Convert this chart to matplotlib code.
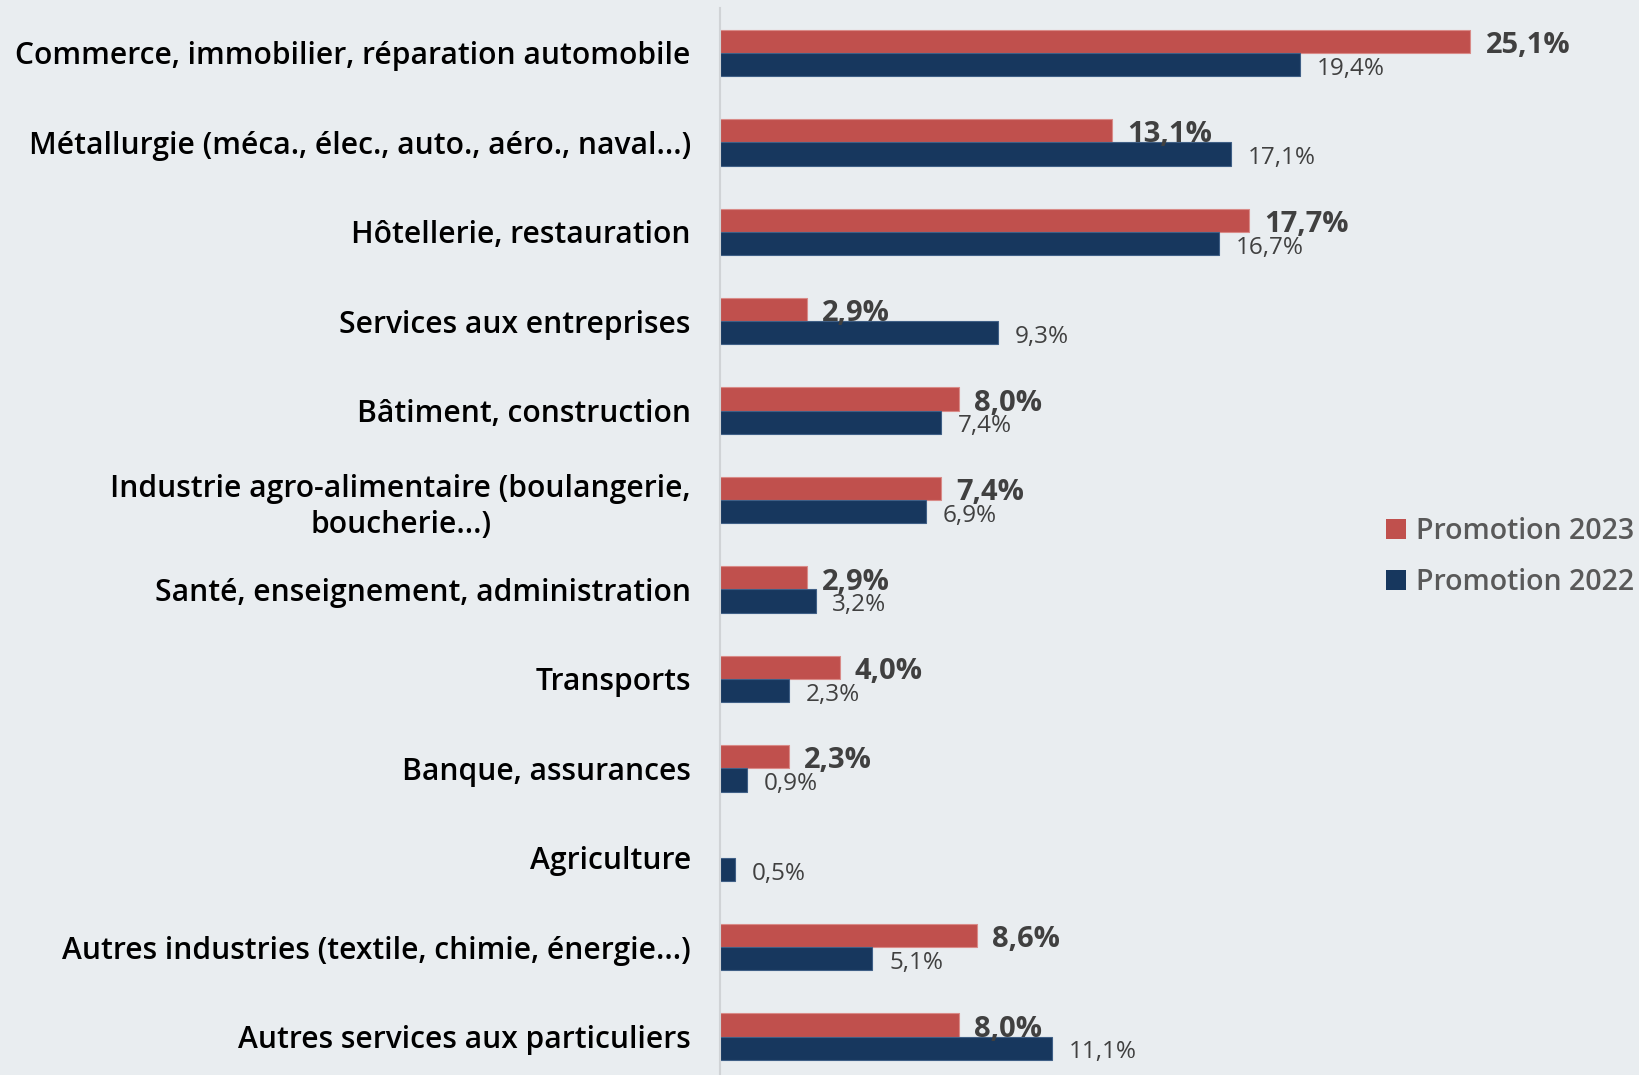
import matplotlib.pyplot as plt
from matplotlib.patches import Patch

categories = [
    "Commerce, immobilier, réparation automobile",
    "Métallurgie (méca., élec., auto., aéro., naval...)",
    "Hôtellerie, restauration",
    "Services aux entreprises",
    "Bâtiment, construction",
    "Industrie agro-alimentaire (boulangerie,\nboucherie...)",
    "Santé, enseignement, administration",
    "Transports",
    "Banque, assurances",
    "Agriculture",
    "Autres industries (textile, chimie, énergie...)",
    "Autres services aux particuliers",
]
promo_2023 = [25.1, 13.1, 17.7, 2.9, 8.0, 7.4, 2.9, 4.0, 2.3, None, 8.6, 8.0]
promo_2022 = [19.4, 17.1, 16.7, 9.3, 7.4, 6.9, 3.2, 2.3, 0.9, 0.5, 5.1, 11.1]

red = "#C0504D"
navy = "#17375E"
bg = "#E9EDF0"
font = "Open Sans"

def fmt(v):
    return f"{v:.1f}%".replace(".", ",")

fig = plt.figure(figsize=(16.4, 10.75), dpi=100, facecolor=bg)
ax = fig.add_axes([720 / 1640, 0, 1 - 720 / 1640, 1 - 8 / 1075])
ax.set_facecolor(bg)

h = 0.26
for i, (a, b) in enumerate(zip(promo_2023, promo_2022)):
    if a is not None:
        ax.barh(i - h / 2, a, height=h, color=red, edgecolor="#d98b88", linewidth=0.8)
        ax.annotate(fmt(a), (a, i - h / 2), xytext=(11, -3), textcoords="offset points",
                    va="center", ha="left", fontsize=21, fontweight="bold",
                    color="#404040", family=font)
    ax.barh(i + h / 2, b, height=h, color=navy, edgecolor="#3f5f86", linewidth=0.8)
    ax.annotate(fmt(b), (b, i + h / 2), xytext=(12, -3), textcoords="offset points",
                va="center", ha="left", fontsize=17.5, color="#404040", family=font)

ax.set_xlim(0, (1640 - 720) / 29.9)
ax.set_ylim(11.43, -0.503)
ax.set_yticks(range(len(categories)))
ax.set_yticklabels(categories, fontsize=21.6, fontweight="semibold", family=font,
                   color="black", linespacing=1.3)
for t in ax.get_yticklabels():
    t.set_multialignment("center")
ax.tick_params(axis="y", length=0, pad=21)
ax.set_xticks([])
for s in ["top", "right", "bottom"]:
    ax.spines[s].set_visible(False)
ax.spines["left"].set_color("#D0D3D6")
ax.spines["left"].set_linewidth(1.5)

handles = [Patch(facecolor=red), Patch(facecolor=navy)]
leg = fig.legend(handles, ["Promotion 2023", "Promotion 2022"], loc="center right",
                 bbox_to_anchor=(1634 / 1640, 1 - 557 / 1075), frameon=False,
                 borderpad=0, borderaxespad=0,
                 handlelength=0.7, handleheight=0.7, handletextpad=0.35,
                 labelspacing=0.8, prop={"family": font, "size": 20.5, "weight": "semibold"})
for t in leg.get_texts():
    t.set_color("#595959")

fig.savefig("out.png", dpi=100, facecolor=bg)
